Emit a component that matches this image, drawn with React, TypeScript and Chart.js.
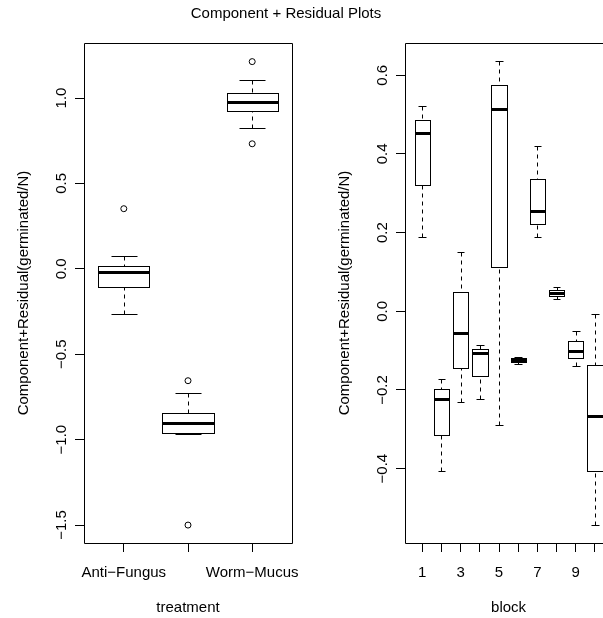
import React, { useEffect, useRef } from "react";
import { Chart, registerables } from "chart.js";

Chart.register(...registerables);

const MAIN_TITLE = "Component + Residual Plots";
const Y_TITLE = "Component+Residual(germinated/N)";

// ---- Left panel: treatment ----
const treatmentPositions = [1, 2, 3];
const treatmentTickLabels = ["Anti−Fungus", "", "Worm−Mucus"];
const treatmentLowerWhisker = [-0.265, -0.964, 0.824];
const treatmentQ1 = [-0.107, -0.96, 0.924];
const treatmentMedian = [-0.021, -0.901, 0.978];
const treatmentQ3 = [0.014, -0.844, 1.029];
const treatmentUpperWhisker = [0.077, -0.725, 1.107];
const treatmentOutlierX = [1, 2, 2, 3, 3];
const treatmentOutlierY = [0.352, -0.655, -1.5, 1.213, 0.732];
const treatmentYTicks = [-1.5, -1.0, -0.5, 0.0, 0.5, 1.0];
const treatmentYTickLabels = ["−1.5", "−1.0", "−0.5", "0.0", "0.5", "1.0"];

// ---- Right panel: block ----
const blockPositions = [1, 2, 3, 4, 5, 6, 7, 8, 9, 10];
const blockTickLabels = ["1", "", "3", "", "5", "", "7", "", "9", ""];
const blockLowerWhisker = [0.188, -0.405, -0.23, -0.222, -0.289, -0.135, 0.188, 0.032, -0.138, -0.542];
const blockQ1 = [0.321, -0.314, -0.143, -0.164, 0.113, -0.129, 0.222, 0.039, -0.12, -0.405];
const blockMedian = [0.454, -0.222, -0.054, -0.107, 0.515, -0.123, 0.254, 0.047, -0.102, -0.266];
const blockQ3 = [0.487, -0.197, 0.048, -0.097, 0.575, -0.119, 0.337, 0.055, -0.075, -0.137];
const blockUpperWhisker = [0.521, -0.171, 0.151, -0.085, 0.635, -0.117, 0.42, 0.063, -0.049, -0.007];
const blockOutlierX: number[] = [];
const blockOutlierY: number[] = [];
const blockYTicks = [-0.4, -0.2, 0.0, 0.2, 0.4, 0.6];
const blockYTickLabels = ["−0.4", "−0.2", "0.0", "0.2", "0.4", "0.6"];

const FONT = "15px 'Liberation Sans', Arial, Helvetica, sans-serif";
const W = 603;
const H = 618;

type Panel = {
  positions: number[];
  tickLabels: string[];
  lw: number[];
  q1: number[];
  med: number[];
  q3: number[];
  uw: number[];
  ox: number[];
  oy: number[];
  yTicks: number[];
  yTickLabels: string[];
  xMin: number;
  xMax: number;
  xFullMax: number;
  yMin: number;
  yMax: number;
  areaLeft: number;
  areaRight: number;
  xTitle: string;
  drawMainTitle: boolean;
  rightBorder: boolean;
};

const panels: Panel[] = [
  {
    positions: treatmentPositions,
    tickLabels: treatmentTickLabels,
    lw: treatmentLowerWhisker,
    q1: treatmentQ1,
    med: treatmentMedian,
    q3: treatmentQ3,
    uw: treatmentUpperWhisker,
    ox: treatmentOutlierX,
    oy: treatmentOutlierY,
    yTicks: treatmentYTicks,
    yTickLabels: treatmentYTickLabels,
    xMin: 0.38,
    xMax: 3.62,
    xFullMax: 3.62,
    yMin: -1.605,
    yMax: 1.322,
    areaLeft: 84,
    areaRight: 292,
    xTitle: "treatment",
    drawMainTitle: true,
    rightBorder: true,
  },
  {
    positions: blockPositions,
    tickLabels: blockTickLabels,
    lw: blockLowerWhisker,
    q1: blockQ1,
    med: blockMedian,
    q3: blockQ3,
    uw: blockUpperWhisker,
    ox: blockOutlierX,
    oy: blockOutlierY,
    yTicks: blockYTicks,
    yTickLabels: blockYTickLabels,
    xMin: 0.1,
    xMax: 10.42,
    xFullMax: 10.9,
    yMin: -0.589,
    yMax: 0.682,
    areaLeft: 405,
    areaRight: 603,
    xTitle: "block",
    drawMainTitle: false,
    rightBorder: false,
  },
];

const AREA_TOP = 43;
const AREA_BOTTOM = 543;

function makePlugin(p: Panel) {
  return {
    id: "boxplots",
    afterDatasetsDraw(chart: any) {
      const ctx = chart.ctx as CanvasRenderingContext2D;
      const xs = chart.scales.x;
      const ys = chart.scales.y;
      const c = (v: number) => Math.round(v) + 0.5;
      ctx.save();
      ctx.strokeStyle = "#000";
      ctx.fillStyle = "#fff";
      p.positions.forEach((pos, i) => {
        const x = xs.getPixelForValue(pos);
        const xl = xs.getPixelForValue(pos - 0.4);
        const xr = xs.getPixelForValue(pos + 0.4);
        const sl = xs.getPixelForValue(pos - 0.2);
        const sr = xs.getPixelForValue(pos + 0.2);
        const yLw = ys.getPixelForValue(p.lw[i]);
        const yQ1 = ys.getPixelForValue(p.q1[i]);
        const yMed = ys.getPixelForValue(p.med[i]);
        const yQ3 = ys.getPixelForValue(p.q3[i]);
        const yUw = ys.getPixelForValue(p.uw[i]);
        // whiskers (dashed)
        ctx.lineWidth = 1;
        ctx.setLineDash([4, 4]);
        ctx.beginPath();
        ctx.moveTo(c(x), c(yLw));
        ctx.lineTo(c(x), c(yQ1));
        ctx.moveTo(c(x), c(yUw));
        ctx.lineTo(c(x), c(yQ3));
        ctx.stroke();
        ctx.setLineDash([]);
        // staples
        ctx.beginPath();
        ctx.moveTo(c(sl), c(yLw));
        ctx.lineTo(c(sr), c(yLw));
        ctx.moveTo(c(sl), c(yUw));
        ctx.lineTo(c(sr), c(yUw));
        ctx.stroke();
        // box
        const bx = c(xl);
        const by = c(yQ3);
        const bw = c(xr) - bx;
        const bh = c(yQ1) - by;
        ctx.fillRect(bx, by, bw, bh);
        ctx.strokeRect(bx, by, bw, bh);
        // median
        ctx.lineWidth = 3;
        ctx.beginPath();
        ctx.moveTo(bx, c(yMed));
        ctx.lineTo(bx + bw, c(yMed));
        ctx.stroke();
      });
      ctx.restore();
    },
    afterDraw(chart: any) {
      const ctx = chart.ctx as CanvasRenderingContext2D;
      const xs = chart.scales.x;
      const ys = chart.scales.y;
      const area = chart.chartArea;
      const c = (v: number) => Math.round(v) + 0.5;
      ctx.save();
      ctx.strokeStyle = "#000";
      ctx.fillStyle = "#000";
      ctx.lineWidth = 1;
      // plot frame
      const L = c(area.left);
      const T = c(area.top);
      const B = c(area.bottom);
      const R = p.rightBorder ? c(area.right) : area.right + 20;
      ctx.beginPath();
      ctx.moveTo(R, T);
      ctx.lineTo(L, T);
      ctx.lineTo(L, B);
      ctx.lineTo(R, B);
      if (p.rightBorder) ctx.lineTo(R, T);
      ctx.stroke();

      ctx.font = FONT;
      // x tick labels
      ctx.textAlign = "center";
      ctx.textBaseline = "alphabetic";
      xs.ticks.forEach((t: any, i: number) => {
        const lab = p.tickLabels[i];
        if (lab) ctx.fillText(lab, xs.getPixelForValue(t.value), 577);
      });
      // y tick labels (rotated)
      ys.ticks.forEach((t: any, i: number) => {
        const lab = p.yTickLabels[i];
        ctx.save();
        ctx.translate(area.left - 18, ys.getPixelForValue(t.value));
        ctx.rotate(-Math.PI / 2);
        ctx.fillText(lab, 0, 0);
        ctx.restore();
      });
      // axis titles
      const xCenter = (xs.getPixelForValue(p.xMin) + xs.getPixelForValue(p.xFullMax)) / 2;
      ctx.fillText(p.xTitle, xCenter, 612);
      ctx.save();
      ctx.translate(area.left - 56, (area.top + area.bottom) / 2);
      ctx.rotate(-Math.PI / 2);
      ctx.fillText(Y_TITLE, 0, 0);
      ctx.restore();
      if (p.drawMainTitle) {
        ctx.fillText(MAIN_TITLE, 286, 18);
      }
      ctx.restore();
    },
  };
}

function PanelChart({ p }: { p: Panel }) {
  const ref = useRef<HTMLCanvasElement | null>(null);
  useEffect(() => {
    if (!ref.current) return;
    const chart = new Chart(ref.current, {
      type: "scatter",
      data: {
        datasets: [
          {
            data: p.ox.map((x, i) => ({ x, y: p.oy[i] })),
            pointStyle: "circle",
            pointRadius: 3,
            pointBorderWidth: 1,
            pointBorderColor: "#000",
            pointBackgroundColor: "rgba(0,0,0,0)",
            showLine: false,
          } as any,
        ],
      },
      options: {
        responsive: false,
        maintainAspectRatio: false,
        animation: false,
        devicePixelRatio: 1,
        events: [],
        layout: {
          padding: { top: AREA_TOP, right: W - p.areaRight, left: 0, bottom: 0 },
        },
        plugins: {
          legend: { display: false },
          title: { display: false },
          tooltip: { enabled: false },
        },
        scales: {
          x: {
            type: "linear",
            position: "bottom",
            min: p.xMin,
            max: p.xMax,
            bounds: "data",
            afterBuildTicks: (s: any) => {
              s.ticks = p.positions.map((v) => ({ value: v }));
            },
            afterFit: (s: any) => {
              s.height = H - AREA_BOTTOM;
              s.paddingLeft = 0;
              s.paddingRight = 0;
              s.paddingTop = 0;
              s.paddingBottom = 0;
            },
            ticks: { display: false },
            grid: {
              display: true,
              drawOnChartArea: false,
              drawTicks: true,
              tickLength: 9,
              color: "#000",
              lineWidth: 1,
            },
            border: { display: false },
          },
          y: {
            type: "linear",
            position: "left",
            min: p.yMin,
            max: p.yMax,
            bounds: "data",
            afterBuildTicks: (s: any) => {
              s.ticks = p.yTicks.map((v) => ({ value: v }));
            },
            afterFit: (s: any) => {
              s.width = p.areaLeft;
              s.paddingLeft = 0;
              s.paddingRight = 0;
              s.paddingTop = 0;
              s.paddingBottom = 0;
            },
            ticks: { display: false },
            grid: {
              display: true,
              drawOnChartArea: false,
              drawTicks: true,
              tickLength: 9,
              color: "#000",
              lineWidth: 1,
            },
            border: { display: false },
          },
        },
      } as any,
      plugins: [makePlugin(p)],
    });
    return () => chart.destroy();
  }, [p]);
  return (
    <canvas
      ref={ref}
      width={W}
      height={H}
      style={{ position: "absolute", left: 0, top: 0, width: W, height: H, display: "block" }}
    />
  );
}

export default function App() {
  return (
    <div
      style={{
        position: "absolute",
        left: 0,
        top: 0,
        width: W,
        height: H,
        background: "#fff",
        overflow: "hidden",
      }}
    >
      {panels.map((p, i) => (
        <PanelChart key={i} p={p} />
      ))}
    </div>
  );
}
